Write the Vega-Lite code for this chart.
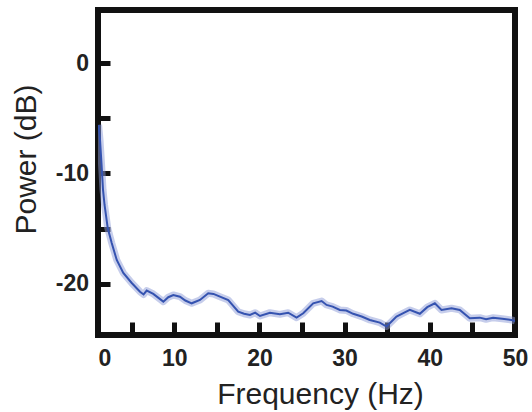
{
  "$schema": "https://vega.github.io/schema/vega-lite/v6.json",
  "width": 417,
  "height": 325,
  "autosize": {"type": "none"},
  "padding": {"left": 98, "top": 10, "right": 17, "bottom": 77},
  "background": "white",
  "config": {"view": {"stroke": "#111111", "strokeWidth": 6}, "font": "Liberation Sans"},
  "data": {"values": [
    {"f": 1.12, "p": -5.6},
    {"f": 1.29, "p": -7.0},
    {"f": 1.47, "p": -9.23},
    {"f": 1.64, "p": -11.49},
    {"f": 1.82, "p": -12.85},
    {"f": 2.19, "p": -14.93},
    {"f": 2.66, "p": -16.29},
    {"f": 3.25, "p": -17.83},
    {"f": 4.02, "p": -19.0},
    {"f": 5.01, "p": -19.91},
    {"f": 5.98, "p": -20.7},
    {"f": 6.4, "p": -20.95},
    {"f": 6.77, "p": -20.6},
    {"f": 7.54, "p": -20.9},
    {"f": 8.72, "p": -21.6},
    {"f": 9.3, "p": -21.2},
    {"f": 9.89, "p": -21.0},
    {"f": 10.67, "p": -21.15},
    {"f": 11.3, "p": -21.5},
    {"f": 12.05, "p": -21.75},
    {"f": 13.02, "p": -21.45},
    {"f": 13.99, "p": -20.84},
    {"f": 14.6, "p": -20.9},
    {"f": 15.37, "p": -21.15},
    {"f": 16.34, "p": -21.45},
    {"f": 17.51, "p": -22.51},
    {"f": 18.2, "p": -22.7},
    {"f": 18.89, "p": -22.81},
    {"f": 19.5, "p": -22.6},
    {"f": 20.06, "p": -22.9},
    {"f": 21.23, "p": -22.6},
    {"f": 22.4, "p": -22.75},
    {"f": 23.38, "p": -22.6},
    {"f": 24.36, "p": -23.05},
    {"f": 25.14, "p": -22.65},
    {"f": 26.31, "p": -21.75},
    {"f": 27.3, "p": -21.55},
    {"f": 27.88, "p": -21.9},
    {"f": 28.6, "p": -22.05},
    {"f": 29.44, "p": -22.35},
    {"f": 30.2, "p": -22.4},
    {"f": 31.0, "p": -22.7},
    {"f": 32.0, "p": -22.95},
    {"f": 32.96, "p": -23.26},
    {"f": 34.13, "p": -23.5},
    {"f": 34.92, "p": -23.85},
    {"f": 36.09, "p": -22.96},
    {"f": 37.0, "p": -22.6},
    {"f": 37.65, "p": -22.35},
    {"f": 38.83, "p": -22.7},
    {"f": 39.7, "p": -22.1},
    {"f": 40.59, "p": -21.75},
    {"f": 41.37, "p": -22.35},
    {"f": 42.55, "p": -22.2},
    {"f": 43.52, "p": -22.35},
    {"f": 44.69, "p": -23.1},
    {"f": 45.87, "p": -23.05},
    {"f": 46.6, "p": -23.2},
    {"f": 47.43, "p": -23.05},
    {"f": 48.5, "p": -23.15},
    {"f": 49.58, "p": -23.26},
    {"f": 50.0, "p": -23.35}
  ]},
  "encoding": {
    "x": {
      "field": "f",
      "type": "quantitative",
      "scale": {"domain": [1.05, 50], "nice": false, "zero": false},
      "axis": {
        "orient": "bottom",
        "domain": false,
        "grid": false,
        "values": [1.05, 5, 10, 15, 20, 25, 30, 35, 40, 45, 50],
        "labelExpr": "datum.value < 2 ? '0' : (datum.value % 10 == 0 ? '' + datum.value : '')",
        "tickColor": "#111111",
        "tickWidth": 5,
        "tickSize": -13,
        "labelPadding": 43,
        "labelBaseline": "alphabetic",
        "labelFont": "Liberation Sans",
        "labelFontWeight": "bold",
        "labelFontSize": 23,
        "labelColor": "#222222",
        "labelAlign": {"condition": {"test": "datum.value < 2", "value": "left"}, "value": "center"},
        "labelFlush": false,
        "labelOverlap": false,
        "title": "Frequency (Hz)",
        "titleFont": "Liberation Sans",
        "titleFontSize": 30,
        "titleFontWeight": "normal",
        "titleColor": "#222222",
        "titleX": 222,
        "titleY": 68,
        "titleBaseline": "alphabetic",
        "titleAlign": "center"
      }
    },
    "y": {
      "field": "p",
      "type": "quantitative",
      "scale": {"domain": [-24.62, 4.8], "nice": false, "zero": false},
      "axis": {
        "orient": "left",
        "domain": false,
        "grid": false,
        "values": [-20, -15, -10, -5, 0],
        "labelExpr": "datum.value % 10 == 0 ? '' + datum.value : ''",
        "tickColor": "#111111",
        "tickWidth": 5,
        "tickSize": -12,
        "labelPadding": 21.5,
        "labelBaseline": "middle",
        "labelFont": "Liberation Sans",
        "labelFontWeight": "bold",
        "labelFontSize": 23,
        "labelColor": "#222222",
        "labelFlush": false,
        "labelOverlap": false,
        "title": "Power (dB)",
        "titleFont": "Liberation Sans",
        "titleFontSize": 30,
        "titleFontWeight": "normal",
        "titleColor": "#222222",
        "titleAngle": -90,
        "titleX": -63,
        "titleY": 149,
        "titleBaseline": "alphabetic",
        "titleAlign": "center"
      }
    }
  },
  "layer": [
    {"mark": {"type": "line", "color": "#8d9bd8", "strokeWidth": 7, "opacity": 0.5, "clip": true, "strokeJoin": "round"}},
    {"mark": {"type": "line", "color": "#3553b0", "strokeWidth": 2, "clip": true}}
  ]
}
